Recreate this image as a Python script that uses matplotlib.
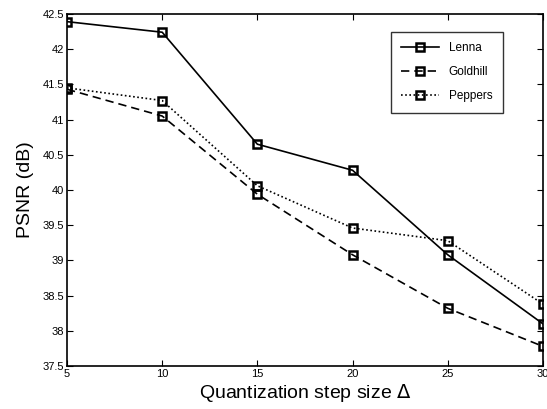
import matplotlib
matplotlib.use("Agg")
import matplotlib.pyplot as plt

plt.rcParams["font.family"] = ["Liberation Sans", "DejaVu Sans"]

step = [5, 10, 15, 20, 25, 30]
lenna = [42.39, 42.24, 40.65, 40.28, 39.08, 38.10]
goldhill = [41.43, 41.05, 39.94, 39.08, 38.32, 37.78]
peppers = [41.45, 41.27, 40.06, 39.46, 39.28, 38.38]

fig = plt.figure(figsize=(5.47, 4.09), dpi=100)
ax = fig.add_axes([0.1225, 0.105, 0.870, 0.861])

style = dict(color="black", marker="s", markersize=6, markerfacecolor="none",
             markeredgewidth=1.8, linewidth=1.2)
ax.plot(step, lenna, linestyle="-", label="Lenna", **style)
ax.plot(step, goldhill, linestyle=(0, (5, 3)), label="Goldhill", **style)
ax.plot(step, peppers, linestyle=(0, (1, 1.5)), label="Peppers", **style)

ax.set_xlim(5, 30)
ax.set_ylim(37.5, 42.5)
ax.set_xticks([5, 10, 15, 20, 25, 30])
ax.set_yticks([37.5, 38, 38.5, 39, 39.5, 40, 40.5, 41, 41.5, 42, 42.5])
ax.set_yticklabels(["37.5", "38", "38.5", "39", "39.5", "40", "40.5",
                    "41", "41.5", "42", "42.5"])
ax.tick_params(direction="in", top=True, right=True, length=4, width=0.8,
               labelsize=8, pad=2)
for s in ax.spines.values():
    s.set_linewidth(1.2)

ax.set_xlabel("Quantization step size $\\Delta$", fontsize=14, labelpad=2)
ax.set_ylabel("PSNR (dB)", fontsize=14, labelpad=6)

leg = ax.legend(loc="upper right", bbox_to_anchor=(0.916, 0.949),
                fontsize=8.5, fancybox=False, edgecolor="black",
                handlelength=3.2, borderpad=0.9, labelspacing=1.0,
                borderaxespad=0)
leg.get_frame().set_linewidth(1.0)

fig.savefig("out.png", dpi=100)
